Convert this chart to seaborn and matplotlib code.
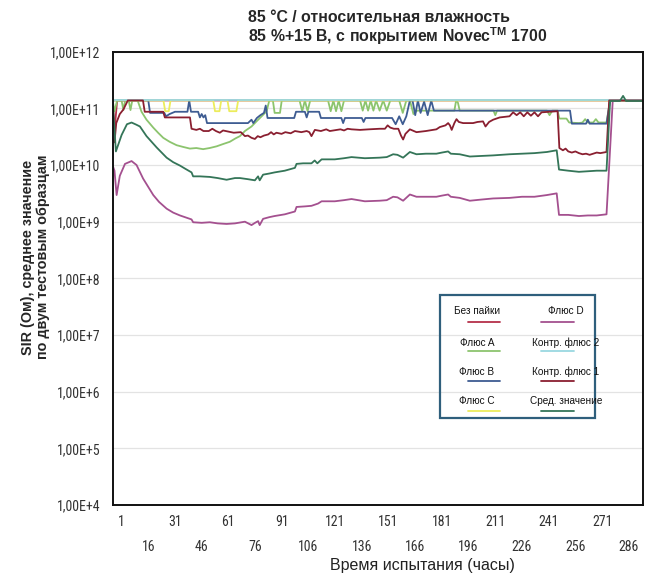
import numpy as np
import pandas as pd
import matplotlib
matplotlib.use("Agg")
import matplotlib.pyplot as plt
from matplotlib import font_manager
import seaborn as sns
from matplotlib.ticker import FixedLocator, FuncFormatter, NullLocator
from matplotlib.lines import Line2D
from matplotlib.patches import Rectangle

# ---------------- data (hours, log10 of SIR in Ohm) ----------------
tick_major = [1, 31, 61, 91, 121, 151, 181, 211, 241, 271]
tick_minor = [16, 46, 76, 106, 136, 166, 196, 226, 256, 286]
y_decades = [4, 5, 6, 7, 8, 9, 10, 11, 12]

nosolder_h = [-4, -3, -1.5, 294]
nosolder_lg = [11.14, 10.60, 11.14, 11.14]

fluxD_h = [-4, -3, -1.8, 0, 2.9, 6.6, 9.4, 13.1, 18.8, 22, 26.3, 30, 33.8, 40.3, 41.2, 46,
           50.6, 55, 60, 64.7, 70.3, 74, 76, 77.7, 78.6, 80.5, 84, 87, 92.7, 98.4, 99.3,
           104, 107.7, 111.4, 113.4, 120.8, 126, 130.2, 137.7, 146, 150, 153.6, 156,
           159.2, 163, 166.7, 172, 177.9, 181, 184.5, 186, 191, 196.7, 203, 209.8, 219,
           226, 233, 240, 245.5, 246.8, 252, 258, 263, 268, 273.5, 277, 294]
fluxD_lg = [9.99, 9.90, 9.47, 9.81, 10.02, 10.07, 10.00, 9.76, 9.47, 9.35, 9.23, 9.16, 9.11,
            9.04, 8.99, 8.98, 8.99, 8.97, 8.96, 8.97, 9.00, 8.94, 8.98, 9.01, 8.94, 9.05,
            9.08, 9.10, 9.13, 9.18, 9.26, 9.27, 9.28, 9.32, 9.36, 9.36, 9.38, 9.40, 9.36,
            9.37, 9.38, 9.44, 9.43, 9.37, 9.48, 9.44, 9.44, 9.44, 9.46, 9.48, 9.44, 9.42,
            9.37, 9.39, 9.41, 9.42, 9.44, 9.44, 9.47, 9.50, 9.12, 9.12, 9.10, 9.11, 9.11,
            9.13, 11.14, 11.14]

fluxA_h = [-4, -3, -1.5, 1, 2, 3, 5, 6, 7, 10, 12.2, 15, 18.8, 21.5, 24.4, 28, 31.9, 35.5,
           39.4, 43, 46.8, 50.5, 54.4, 58, 61.8, 65, 67.5, 70.3, 74, 76.8, 79.7, 82.5, 84,
           86, 87, 90, 91, 101, 102.5, 104, 105.5, 107, 117, 118.5, 120, 121.5, 123, 124.5,
           126, 135, 136.5, 138, 139.5, 141, 142.5, 144, 146, 148, 150, 152, 157, 159, 161,
           163, 165, 167, 188, 189, 190, 191, 210, 211, 212, 240, 241.5, 243, 246, 247, 251,
           252.5, 258, 260, 261.5, 263, 266, 267.5, 269, 273.5, 275.5, 294]
fluxA_lg = [11.14, 10.95, 11.14, 11.14, 10.97, 11.14, 11.14, 10.97, 11.14, 11.14, 10.94,
            10.80, 10.66, 10.57, 10.48, 10.41, 10.35, 10.32, 10.29, 10.30, 10.28, 10.30,
            10.33, 10.37, 10.41, 10.47, 10.51, 10.60, 10.68, 10.77, 10.86, 10.95, 11.14,
            11.14, 10.92, 10.92, 11.14, 11.14, 10.95, 11.14, 10.95, 11.14, 11.14, 10.95,
            11.14, 10.95, 11.14, 10.95, 11.14, 11.14, 10.96, 11.14, 10.96, 11.14, 10.96,
            11.14, 10.96, 11.14, 10.96, 11.14, 11.14, 10.92, 11.14, 11.14, 10.90, 10.96,
            10.96, 11.14, 11.10, 10.96, 10.96, 10.88, 10.96, 10.96, 10.88, 10.96, 10.96,
            10.82, 10.82, 10.75, 10.74, 10.75, 10.81, 10.75, 10.75, 10.81, 10.75, 10.75,
            11.14, 11.14]

fluxB_h = [-4, 16, 17, 25, 26, 28, 31, 38, 39, 40, 44, 45, 46, 47, 48, 49, 72, 74, 75, 77,
           79, 81, 82, 83, 98, 99, 104, 105, 106, 112, 113, 124.5, 125.5, 126.5, 136, 137,
           138, 153, 155, 157, 159, 161, 163, 164.5, 166, 167.5, 169, 171, 173, 175, 176.5,
           253, 254, 262, 263, 264, 273.5, 275.5, 294]
fluxB_lg = [11.14, 11.14, 10.92, 10.92, 10.86, 10.90, 10.94, 10.94, 11.14, 10.94, 10.94,
            10.84, 10.90, 10.84, 10.88, 10.74, 10.74, 10.80, 10.74, 10.83, 10.88, 10.92,
            11.05, 10.83, 10.83, 10.94, 10.94, 10.84, 10.94, 10.94, 10.83, 10.83, 10.74,
            10.83, 10.83, 10.76, 10.83, 10.83, 10.72, 10.86, 10.72, 10.86, 11.14, 11.14,
            10.88, 11.14, 10.92, 11.12, 10.88, 11.14, 10.96, 10.96, 10.73, 10.73, 10.80,
            10.73, 10.73, 11.14, 11.14]

fluxC_h = [-4, 24.5, 25.5, 27.5, 28.5, 52.5, 53.5, 56, 57, 60.5, 61.5, 65.5, 66.5, 294]
fluxC_lg = [11.14, 11.14, 10.95, 10.95, 11.14, 11.14, 10.95, 10.95, 11.14, 11.14, 10.95,
            10.95, 11.14, 11.14]

ctrl2_h = [-4, 294]
ctrl2_lg = [11.14, 11.14]

ctrl1_h = [-4, -3, -2, 0, 2, 4.5, 13, 14, 24.4, 25.3, 39.4, 40.3, 43, 45, 47, 50, 52, 54,
           56.2, 58, 61, 64, 68, 70.3, 72, 74, 75.9, 77.5, 79, 81, 83.4, 85, 86.5, 88, 90.9,
           93, 96, 98.4, 102, 105, 106.5, 107.7, 109.6, 113, 116, 118, 120, 124, 126, 128,
           130.2, 135, 140, 146, 149, 150.5, 152, 154, 156.5, 158, 159.2, 160.5, 163, 166.7,
           172, 177.9, 179.8, 183, 184.5, 185.5, 186.5, 188, 189.2, 190.5, 192.9, 198.5,
           201, 204.1, 205.5, 207.5, 209.8, 213.5, 219, 221, 223, 225, 227, 229, 231, 233,
           235, 237, 246, 247, 249, 250.5, 252, 254, 256, 258, 260, 262, 264, 266, 268, 270,
           273.5, 275, 294]
ctrl1_lg = [10.45, 10.40, 10.74, 10.90, 10.98, 11.14, 11.14, 10.94, 10.94, 10.84, 10.84,
            10.64, 10.62, 10.64, 10.60, 10.60, 10.64, 10.60, 10.57, 10.61, 10.59, 10.57,
            10.58, 10.51, 10.52, 10.48, 10.46, 10.51, 10.49, 10.52, 10.54, 10.58, 10.54,
            10.57, 10.55, 10.58, 10.56, 10.60, 10.58, 10.60, 10.58, 10.51, 10.62, 10.60,
            10.63, 10.60, 10.61, 10.63, 10.61, 10.64, 10.63, 10.62, 10.63, 10.64, 10.64,
            10.70, 10.66, 10.64, 10.64, 10.52, 10.45, 10.55, 10.63, 10.58, 10.60, 10.63,
            10.67, 10.70, 10.74, 10.70, 10.62, 10.74, 10.81, 10.76, 10.74, 10.74, 10.76,
            10.77, 10.68, 10.76, 10.80, 10.84, 10.86, 10.93, 10.88, 10.93, 10.86, 10.93,
            10.87, 10.93, 10.86, 10.93, 10.95, 10.30, 10.26, 10.29, 10.24, 10.22, 10.24,
            10.21, 10.19, 10.20, 10.18, 10.20, 10.22, 10.21, 10.23, 11.14, 11.14]

avg_h = [-4, -2.2, 1, 4, 6.6, 9.4, 11.3, 15, 20.7, 26.3, 30, 33.8, 37, 40.3, 41.2, 45, 50.6,
         55, 60, 64.7, 67.5, 72, 75.9, 77.7, 78.6, 80.5, 84, 87, 92.7, 98.4, 99.3, 103,
         107.7, 109.5, 111, 113.4, 120.8, 126, 130.2, 137.7, 146, 150, 153.6, 156, 159.2,
         163, 166.7, 172, 177.9, 181, 184.5, 186, 191, 196.7, 203, 209.8, 219, 226, 233,
         240, 245.5, 246.8, 252, 258, 263, 268, 273.5, 275.5, 281, 282.8, 284.5, 294]
avg_lg = [11.13, 10.24, 10.53, 10.72, 10.75, 10.71, 10.68, 10.51, 10.31, 10.13, 10.05, 9.99,
          9.93, 9.87, 9.80, 9.80, 9.79, 9.77, 9.74, 9.77, 9.77, 9.75, 9.73, 9.80, 9.73, 9.83,
          9.85, 9.87, 9.90, 9.95, 10.02, 10.03, 10.03, 10.08, 10.03, 10.10, 10.10, 10.12,
          10.14, 10.12, 10.13, 10.14, 10.19, 10.18, 10.13, 10.23, 10.19, 10.20, 10.20, 10.22,
          10.24, 10.20, 10.19, 10.15, 10.16, 10.17, 10.19, 10.20, 10.21, 10.23, 10.26, 9.92,
          9.90, 9.88, 9.89, 9.90, 9.90, 11.13, 11.13, 11.22, 11.13, 11.13]

# draw order: first drawn lies underneath
series = [
    ("Без пайки", nosolder_h, nosolder_lg, "#b5304a"),
    ("Флюс D", fluxD_h, fluxD_lg, "#a4508f"),
    ("Флюс A", fluxA_h, fluxA_lg, "#8cc46e"),
    ("Флюс B", fluxB_h, fluxB_lg, "#3e5c92"),
    ("Флюс C", fluxC_h, fluxC_lg, "#ecec5c"),
    ("Контр. флюс 2", ctrl2_h, ctrl2_lg, "#9ad8e0"),
    ("Контр. флюс 1", ctrl1_h, ctrl1_lg, "#8a1f30"),
    ("Сред. значение", avg_h, avg_lg, "#347558"),
]
colors = {name: c for name, _, _, c in series}

# ---------------- style ----------------
sns.set_style("white")
plt.rcParams["font.family"] = ["Liberation Sans", "DejaVu Sans"]
plt.rcParams["mathtext.fontset"] = "custom"
plt.rcParams["mathtext.rm"] = "Liberation Sans"
plt.rcParams["mathtext.bf"] = "Liberation Sans:bold"

# narrow font for the tick labels, if one is installed
ttf = font_manager.fontManager.ttflist
names = {f.name for f in ttf}
tick_stretch = "normal"
if "Liberation Sans Narrow" in names:
    tick_family, tick_size = ["Liberation Sans Narrow", "DejaVu Sans"], 10.5
elif "Roboto Condensed" in names:
    tick_family, tick_size = ["Roboto Condensed", "DejaVu Sans"], 10.0
elif any(f.name == "DejaVu Sans" and "ondensed" in str(f.fname) for f in ttf):
    tick_family, tick_size, tick_stretch = ["DejaVu Sans"], 9.0, "condensed"
else:
    tick_family, tick_size = ["Liberation Sans", "DejaVu Sans"], 8.8

W, H = 648, 573
fig = plt.figure(figsize=(W / 100, H / 100), dpi=100)
L, R, T, B = 112.7, 643.0, 51.7, 505.0
ax = fig.add_axes([L / W, 1 - B / H, (R - L) / W, (B - T) / H])
ax.set_yscale("log")

for name, h, lg, c in series:
    df = pd.DataFrame({"hours": h, "sir": np.power(10.0, lg)})
    sns.lineplot(data=df, x="hours", y="sir", ax=ax, color=c, lw=1.3,
                 estimator=None, sort=False, legend=False)

ax.set_xlim(-4, 294)
ax.set_ylim(10.0 ** y_decades[0], 10.0 ** y_decades[-1])
ax.set_ylabel("")

ax.yaxis.set_major_locator(FixedLocator([10.0 ** e for e in y_decades]))
ax.yaxis.set_minor_locator(NullLocator())
ax.yaxis.set_major_formatter(FuncFormatter(lambda v, _: "1,00E+%d" % round(np.log10(v))))
ax.grid(axis="y", color="#e3e3e3", lw=0.9)
ax.grid(axis="x", visible=False)

ax.xaxis.set_major_locator(FixedLocator(tick_major))
ax.xaxis.set_minor_locator(FixedLocator(tick_minor))
ax.xaxis.set_major_formatter(FuncFormatter(lambda v, _: "%d" % v))
ax.xaxis.set_minor_formatter(FuncFormatter(lambda v, _: "%d" % v))
ax.tick_params(axis="x", which="major", length=0, pad=7, labelcolor="#333333")
ax.tick_params(axis="x", which="minor", length=0, pad=25, labelcolor="#333333")
ax.tick_params(axis="y", which="major", length=0, pad=9, labelcolor="#333333")
for lab in ax.get_xticklabels(which="both") + ax.get_yticklabels():
    lab.set_family(tick_family)
    lab.set_fontsize(tick_size)
    lab.set_fontstretch(tick_stretch)

for s in ax.spines.values():
    s.set_color("#111111")
    s.set_linewidth(1.4)

ax.set_xlabel("Время испытания (часы)", fontsize=11.5, color="#222222")
ax.xaxis.set_label_coords((422 - L) / (R - L), (B - 558) / (B - T))

# y-axis title, two rotated lines
fig.text(28 / W, 1 - 257 / H, "SIR (Ом), среднее значение",
         rotation=90, ha="center", va="center", fontsize=10.4, fontweight="bold")
fig.text(43 / W, 1 - 257 / H, "по двум тестовым образцам",
         rotation=90, ha="center", va="center", fontsize=10.4, fontweight="bold")

fig.text(248 / W, 1 - 17 / H, "85 °C / относительная влажность",
         ha="left", va="center", fontsize=11.4, fontweight="bold")
fig.text(248 / W, 1 - 36 / H, r"85 %+15 В, с покрытием Novec$^{\mathbf{TM}}$ 1700",
         ha="left", va="center", fontsize=11.4, fontweight="bold")

# ---------------- legend (text above sample line) ----------------
def fx(px):
    return px / W

def fy(py):
    return 1 - py / H

fig.add_artist(Rectangle((fx(440), fy(418)), fx(595) - fx(440), fy(295) - fy(418),
                         transform=fig.transFigure, fill=False, ec="#2f5f7c", lw=1.6))
leg_cols = [["Без пайки", "Флюс A", "Флюс B", "Флюс C"],
            ["Флюс D", "Контр. флюс 2", "Контр. флюс 1", "Сред. значение"]]
col_text_x = [477, 566]
col_line_x = [(468, 500), (541, 574)]
row_text_y = [311, 343, 372, 401.5]
row_line_y = [321.5, 351, 381, 411]
for ci, names_col in enumerate(leg_cols):
    for ri, name in enumerate(names_col):
        fig.text(fx(col_text_x[ci]), fy(row_text_y[ri]), name, ha="center", va="center",
                 fontsize=7.2, color="#111111")
        x0, x1 = col_line_x[ci]
        fig.add_artist(Line2D([fx(x0), fx(x1)], [fy(row_line_y[ri])] * 2,
                              transform=fig.transFigure, color=colors[name], lw=1.3))

fig.savefig("out.png", dpi=100)
